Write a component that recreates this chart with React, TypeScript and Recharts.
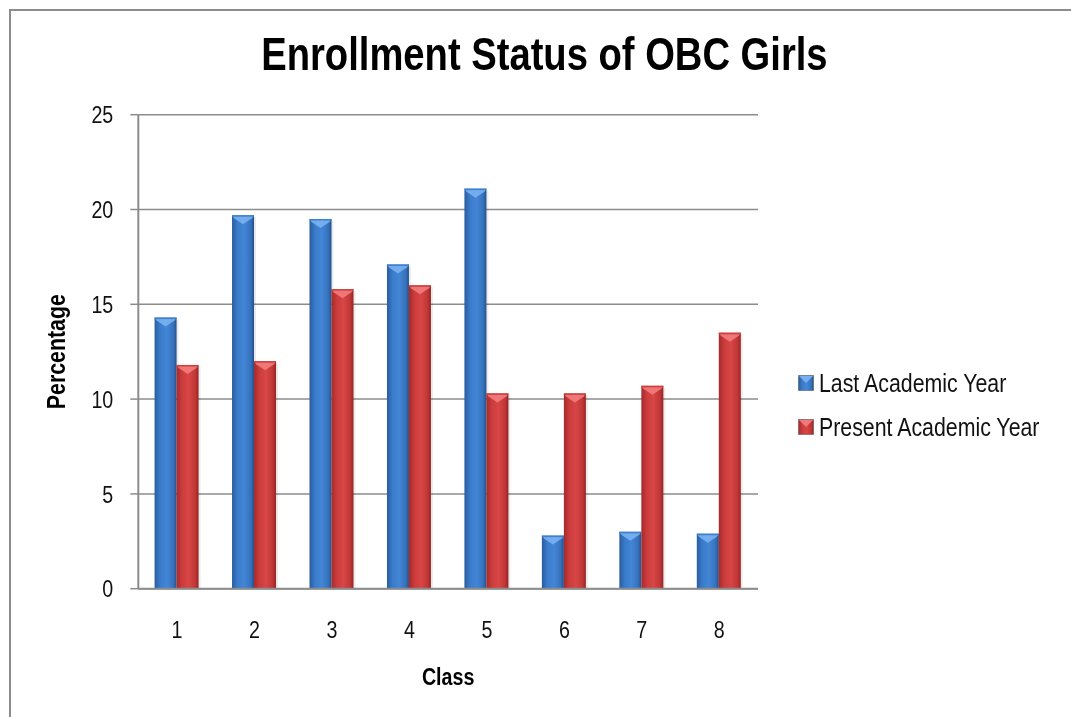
import React from 'react';
import { Bar, BarChart, CartesianGrid, Legend, XAxis, YAxis } from 'recharts';

const classes = ['1', '2', '3', '4', '5', '6', '7', '8'];
const lastYear = [14.3, 19.7, 19.5, 17.1, 21.1, 2.8, 3.0, 2.9];
const presentYear = [11.8, 12.0, 15.8, 16.0, 10.3, 10.3, 10.7, 13.5];
const yTicks = [0, 5, 10, 15, 20, 25];

const data = classes.map((c, i) => ({
  name: c,
  last: lastYear[i],
  present: presentYear[i],
}));

// no narrow font installed, so squeeze Liberation Sans horizontally
const FONT = '"Liberation Sans", Arial, sans-serif';
const NARROW = 0.82;

const bevel: Record<string, string> = {
  '#3b7bc8': '#7db5f3',
  '#c93a3a': '#f38080',
};
const gradId: Record<string, string> = {
  '#3b7bc8': 'gBlue',
  '#c93a3a': 'gRed',
};

function GlassBar(props: any) {
  const { x, y, width, height, fill } = props;
  if (!height || height <= 0) return null;
  const cap = Math.min(9, height);
  return (
    <g>
      <rect x={x + 2} y={y + 2} width={width} height={height - 2} fill="#000" opacity={0.08} />
      <rect x={x} y={y} width={width} height={height} fill={`url(#${gradId[fill]})`} />
      <polygon
        points={`${x},${y} ${x + width},${y} ${x + width - 2},${y + 3} ${x + width / 2},${y + cap} ${x + 2},${y + 3}`}
        fill={bevel[fill]}
        opacity={0.85}
      />
      <rect x={x} y={y} width={width} height={1.5} fill={fill} opacity={0.9} />
    </g>
  );
}

function NarrowTick(props: any) {
  const { x, y, payload, textAnchor, shift } = props;
  return (
    <text
      transform={`translate(${x},${y}) scale(${NARROW},1)`}
      x={0}
      y={0}
      dy={shift}
      textAnchor={textAnchor}
      fontFamily={FONT}
      fontSize={24}
      fill="#111"
    >
      {payload.value}
    </text>
  );
}

function LegendBox(props: any) {
  const { payload } = props;
  return (
    <div style={{ fontFamily: FONT, fontSize: 26, color: '#111', whiteSpace: 'nowrap' }}>
      {(payload || []).map((entry: any) => (
        <div key={entry.value} style={{ display: 'flex', alignItems: 'center', height: 44 }}>
          <svg width={16} height={16} style={{ marginRight: 5 }}>
            <rect x={0.5} y={0.5} width={15} height={15} fill={`url(#${gradId[entry.color]})`} stroke="#333" strokeOpacity={0.4} />
            <polygon points="1,1 15,1 8,8" fill={bevel[entry.color]} opacity={0.9} />
          </svg>
          <span style={{ display: 'inline-block', transform: `scaleX(${NARROW})`, transformOrigin: 'left center' }}>
            {entry.value}
          </span>
        </div>
      ))}
    </div>
  );
}

export default function App() {
  return (
    <div style={{ position: 'fixed', left: 8, top: 8, width: 1063, height: 709, overflow: 'hidden' }}>
      <div
        style={{
          position: 'absolute',
          left: 1,
          top: 1,
          width: 1070,
          height: 720,
          borderTop: '2px solid #8c8c8c',
          borderLeft: '2px solid #8c8c8c',
        }}
      />
      <div
        style={{
          position: 'absolute',
          left: 5,
          top: 23,
          width: 1063,
          textAlign: 'center',
          fontFamily: FONT,
          fontWeight: 'bold',
          fontSize: 46,
          lineHeight: '46px',
          color: '#000',
          transform: 'scaleX(0.83)',
          transformOrigin: '531px 0',
        }}
      >
        Enrollment Status of OBC Girls
      </div>
      <BarChart
        width={1063}
        height={709}
        data={data}
        margin={{ top: 106.7, right: 313, left: 60.3, bottom: 28.3 }}
        barCategoryGap="21%"
        barGap={0}
        style={{ position: 'absolute', left: 0, top: 0 }}
      >
        <defs>
          <linearGradient id="gBlue" x1="0" y1="0" x2="1" y2="0">
            <stop offset="0%" stopColor="#2a5c9c" />
            <stop offset="25%" stopColor="#3a7bcb" />
            <stop offset="55%" stopColor="#4386d6" />
            <stop offset="85%" stopColor="#3672bd" />
            <stop offset="100%" stopColor="#24508a" />
          </linearGradient>
          <linearGradient id="gRed" x1="0" y1="0" x2="1" y2="0">
            <stop offset="0%" stopColor="#a42a2a" />
            <stop offset="25%" stopColor="#cc3c3c" />
            <stop offset="55%" stopColor="#d84646" />
            <stop offset="85%" stopColor="#c03636" />
            <stop offset="100%" stopColor="#962424" />
          </linearGradient>
        </defs>
        <CartesianGrid vertical={false} stroke="#8c8c8c" strokeWidth={1.5} />
        <XAxis
          dataKey="name"
          height={100}
          tickLine={false}
          tickSize={0}
          tickMargin={32}
          axisLine={{ stroke: '#8c8c8c', strokeWidth: 2 }}
          tick={<NarrowTick shift="0.72em" />}
          label={{
            content: ({ viewBox }: any) => (
              <text
                transform={`translate(${viewBox.x + viewBox.width / 2},${viewBox.y + 96}) scale(${NARROW},1)`}
                textAnchor="middle"
                fontFamily={FONT}
                fontWeight="bold"
                fontSize={24}
                fill="#000"
              >
                Class
              </text>
            ),
          }}
        />
        <YAxis
          width={70}
          domain={[0, 25]}
          ticks={yTicks}
          interval={0}
          tickSize={8}
          tickMargin={17}
          tickLine={{ stroke: '#8c8c8c', strokeWidth: 1.5 }}
          axisLine={{ stroke: '#8c8c8c', strokeWidth: 2 }}
          tick={<NarrowTick shift="0.36em" />}
          label={{
            content: ({ viewBox }: any) => {
              const cx = viewBox.x - 3.7;
              const cy = viewBox.y + viewBox.height / 2;
              return (
                <text
                  transform={`translate(${cx},${cy}) rotate(-90) scale(${NARROW},1)`}
                  textAnchor="middle"
                  fontFamily={FONT}
                  fontWeight="bold"
                  fontSize={26}
                  fill="#000"
                >
                  Percentage
                </text>
              );
            },
          }}
        />
        <Legend
          layout="vertical"
          align="center"
          verticalAlign="middle"
          wrapperStyle={{ left: 790, top: 353, width: 'auto' }}
          content={<LegendBox />}
        />
        <Bar dataKey="last" name="Last Academic Year" fill="#3b7bc8" shape={<GlassBar />} isAnimationActive={false} />
        <Bar dataKey="present" name="Present Academic Year" fill="#c93a3a" shape={<GlassBar />} isAnimationActive={false} />
      </BarChart>
    </div>
  );
}
